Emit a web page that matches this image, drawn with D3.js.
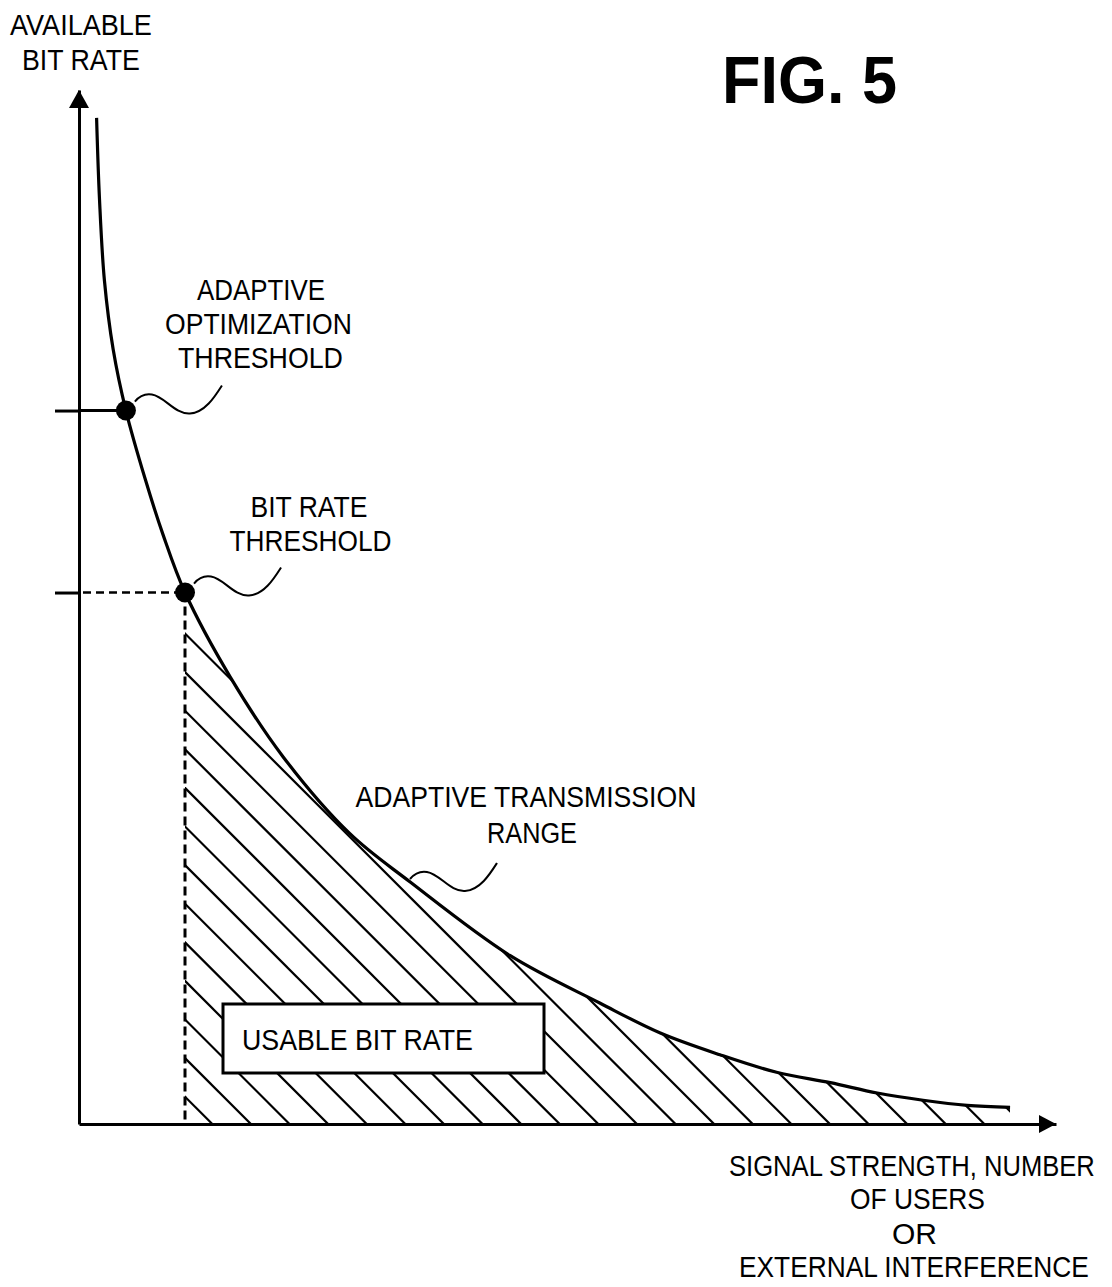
<!DOCTYPE html>
<html>
<head>
<meta charset="utf-8">
<script src="https://cdn.jsdelivr.net/npm/d3@7"></script>
<style>
  html, body { margin: 0; padding: 0; background: #fff; }
  svg { display: block; }
  text { font-family: "Liberation Sans", Arial, sans-serif; fill: #000; }
</style>
</head>
<body>
<div id="chart"></div>
<script>
// curve: available bit rate vs signal strength / users / interference (arbitrary units 0..100)
const curveX = [1.8, 2.1, 2.6, 3.5, 4.8, 6.8, 8.6, 10.85, 15.5, 20.9, 27.7, 33.9, 44.1, 53.3, 59.5, 65.6, 71.4, 76.9, 81.7, 86.4, 90.9, 95.3];
const curveY = [97.3, 89.4, 81.6, 74.9, 69.0, 62.3, 57.0, 51.4, 43.2, 35.5, 28.1, 23.4, 16.3, 11.7, 8.8, 6.7, 5.0, 4.0, 3.0, 2.3, 1.8, 1.6];

const thresholdNames = ['ADAPTIVE OPTIMIZATION THRESHOLD', 'BIT RATE THRESHOLD'];
const thresholdX = [4.8, 10.85];
const thresholdY = [69.0, 51.4];

const yLabel = ['AVAILABLE', 'BIT RATE'];
const xLabel = ['SIGNAL STRENGTH, NUMBER', 'OF USERS', 'OR', 'EXTERNAL INTERFERENCE'];
const optLabel = ['ADAPTIVE', 'OPTIMIZATION', 'THRESHOLD'];
const brLabel = ['BIT RATE', 'THRESHOLD'];
const rangeLabel = ['ADAPTIVE TRANSMISSION', 'RANGE'];
const boxLabel = 'USABLE BIT RATE';
const figTitle = 'FIG. 5';

const width = 1112, height = 1287;

const x = d3.scaleLinear().domain([0, 100]).range([79, 1056]);
const y = d3.scaleLinear().domain([0, 100]).range([1124, 90]);

const svg = d3.select('#chart').append('svg')
    .attr('width', width).attr('height', height)
    .attr('viewBox', [0, 0, width, height]);

const curve = curveX.map((v, i) => [v, curveY[i]]);
const pts = thresholdX.map((v, i) => ({name: thresholdNames[i], x: v, y: thresholdY[i]}));
const lowX = thresholdX[1];

const defs = svg.append('defs');
defs.append('clipPath').attr('id', 'clipRect')
    .append('rect')
    .attr('x', x(lowX)).attr('y', 0)
    .attr('width', x(d3.max(curveX)) - x(lowX)).attr('height', y(0));
defs.append('clipPath').attr('id', 'clipArea')
    .append('path')
    .attr('d', d3.area()
        .curve(d3.curveCatmullRom.alpha(0.5))
        .x(d => x(d[0])).y0(y(0)).y1(d => y(d[1]))(curve));

// hatching under the curve, right of bit rate threshold
const hatch = svg.append('g').attr('clip-path', 'url(#clipRect)')
    .append('g').attr('clip-path', 'url(#clipArea)');
const c0 = y(thresholdY[1]) + 41 - x(lowX); // y - x offset of first hatch line
const step = 38.6;
const offs = d3.range(-24, 16).map(k => c0 + k * step);
hatch.selectAll('line')
    .data(offs)
    .join('line')
    .attr('x1', 120).attr('y1', c => 120 + c)
    .attr('x2', 1100).attr('y2', c => 1100 + c)
    .attr('stroke', '#000').attr('stroke-width', 2.2);

// usable bit rate box
svg.append('rect')
    .attr('x', 223).attr('y', 1004).attr('width', 321).attr('height', 69)
    .attr('fill', '#fff').attr('stroke', '#000').attr('stroke-width', 3);

// axes
const yAxis = d3.axisLeft(y).tickValues(thresholdY).tickSize(24).tickSizeOuter(0).tickFormat('');
const gy = svg.append('g').attr('transform', `translate(${x(0)},0)`).call(yAxis);
const xAxis = d3.axisBottom(x).tickValues([]).tickSizeOuter(0);
const gx = svg.append('g').attr('transform', `translate(0,${y(0)})`).call(xAxis);
[gx, gy].forEach(g => {
    g.selectAll('path, line').attr('stroke', '#000').attr('stroke-width', 3);
});

svg.append('path')
    .attr('d', `M${x(0)},${y(100)}L${x(0) - 10},${y(100) + 18}L${x(0) + 10},${y(100) + 18}Z`)
    .attr('fill', '#000');
svg.append('path')
    .attr('d', `M${x(100)},${y(0)}L${x(100) - 17},${y(0) - 9}L${x(100) - 17},${y(0) + 9}Z`)
    .attr('fill', '#000');

// threshold guides
svg.append('line')
    .attr('x1', x(0)).attr('y1', y(thresholdY[0]))
    .attr('x2', x(thresholdX[0])).attr('y2', y(thresholdY[0]))
    .attr('stroke', '#000').attr('stroke-width', 3);
svg.append('line')
    .attr('x1', x(0) + 4).attr('y1', y(thresholdY[1]))
    .attr('x2', x(thresholdX[1])).attr('y2', y(thresholdY[1]))
    .attr('stroke', '#000').attr('stroke-width', 2.5).attr('stroke-dasharray', '8,5');
svg.append('line')
    .attr('x1', x(thresholdX[1])).attr('y1', y(thresholdY[1]))
    .attr('x2', x(thresholdX[1])).attr('y2', y(0))
    .attr('stroke', '#000').attr('stroke-width', 3).attr('stroke-dasharray', '9,5');

// the curve
svg.append('path')
    .datum(curve)
    .attr('fill', 'none').attr('stroke', '#000').attr('stroke-width', 3.2)
    .attr('d', d3.line()
        .curve(d3.curveCatmullRom.alpha(0.5))
        .x(d => x(d[0])).y(d => y(d[1])));

svg.selectAll('circle.pt')
    .data(pts)
    .join('circle')
    .attr('class', 'pt')
    .attr('cx', d => x(d.x)).attr('cy', d => y(d.y)).attr('r', 10)
    .attr('fill', '#000');

// squiggly leaders (offsets from their start point)
const leader = (sx, sy) =>
    `M${sx},${sy} c5,-6 11,-8 17,-7 c13,2 23,20 38,19 c15,-1 25,-17 32,-28`;
const leaders = [
    leader(x(thresholdX[0]) + 9, y(thresholdY[0]) - 9),
    leader(x(thresholdX[1]) + 9, y(thresholdY[1]) - 9),
    leader(410, 879)
];
svg.selectAll('path.leader')
    .data(leaders)
    .join('path')
    .attr('class', 'leader')
    .attr('d', d => d)
    .attr('fill', 'none').attr('stroke', '#000').attr('stroke-width', 2);

// text, squeezed horizontally to the narrow lettering of the figure
const texts = [
    {t: yLabel[0], cx: 81, by: 35, w: 142},
    {t: yLabel[1], cx: 81, by: 70, w: 118},
    {t: optLabel[0], cx: 261, by: 300, w: 128},
    {t: optLabel[1], cx: 258.5, by: 334, w: 187},
    {t: optLabel[2], cx: 260.5, by: 368, w: 165},
    {t: brLabel[0], cx: 309, by: 517, w: 117},
    {t: brLabel[1], cx: 310.5, by: 551, w: 162},
    {t: rangeLabel[0], cx: 526, by: 807, w: 341},
    {t: rangeLabel[1], cx: 532, by: 843, w: 90},
    {t: boxLabel, cx: 357.5, by: 1050, w: 231},
    {t: xLabel[0], cx: 912, by: 1176, w: 366},
    {t: xLabel[1], cx: 917.5, by: 1209, w: 135},
    {t: xLabel[2], cx: 914.5, by: 1244, w: 45},
    {t: xLabel[3], cx: 914, by: 1277, w: 350},
    {t: figTitle, cx: 809.5, by: 103, w: 175, size: 66, bold: true}
];
svg.selectAll('text.lbl')
    .data(texts)
    .join('text')
    .attr('class', 'lbl')
    .attr('x', 0).attr('y', 0)
    .attr('font-size', d => d.size || 30)
    .attr('font-weight', d => d.bold ? 'bold' : null)
    .text(d => d.t)
    .each(function (d) {
        const nat = this.getComputedTextLength();
        const sx = d.w / nat;
        d3.select(this).attr('transform',
            `translate(${d.cx - d.w / 2},${d.by}) scale(${sx},1)`);
    });
</script>
</body>
</html>
